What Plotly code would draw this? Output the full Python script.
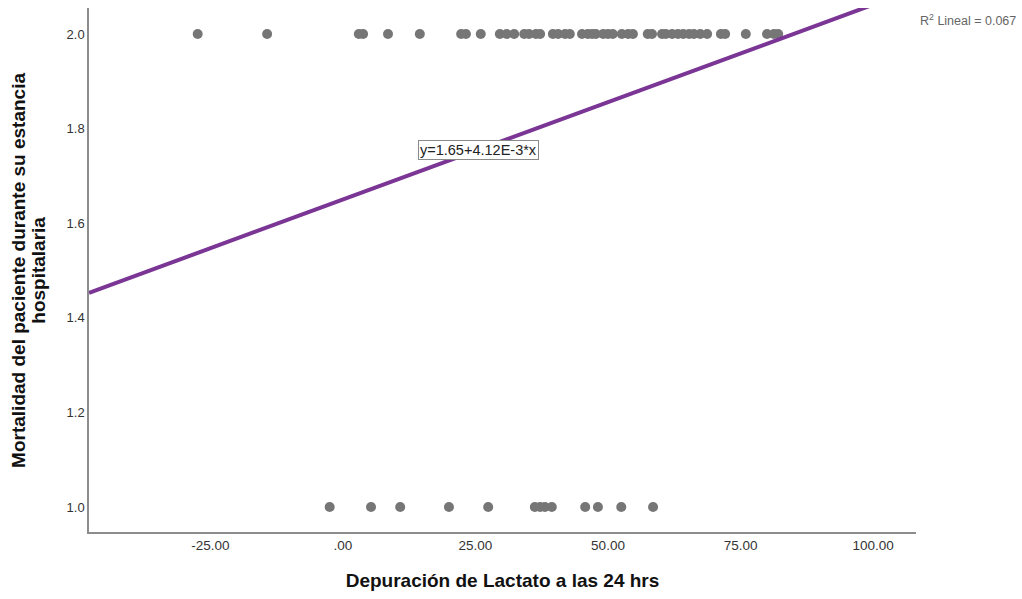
import plotly.graph_objects as go

# Lactate clearance at 24 h (%) for patients who survived (2) and died (1)
depuracion_sobrevivio = [
    -27.4, -14.3, 3.0, 3.8, 8.5, 14.5, 22.3, 23.2, 26.0, 29.6, 30.9, 32.3,
    34.2, 35.1, 36.4, 37.2, 39.6, 40.6, 41.9, 42.8, 45.1, 46.2, 47.0, 47.7,
    49.1, 50.0, 50.9, 52.6, 53.8, 54.7, 57.5, 58.3, 60.2, 60.9, 62.1, 63.2,
    64.2, 65.3, 66.2, 67.4, 68.7, 71.3, 72.1, 76.0, 80.0, 81.3, 82.1,
]
depuracion_fallecio = [
    -2.5, 5.3, 10.8, 20.0, 27.4, 36.2, 37.2, 38.1, 39.4, 45.7, 48.1, 52.5, 58.5,
]
mortalidad_sobrevivio = [2.0] * len(depuracion_sobrevivio)
mortalidad_fallecio = [1.0] * len(depuracion_fallecio)

# Linear fit reported for the model
intercepto = 1.65
pendiente = 4.12e-3
r2 = 0.067

x_rango = [-47.9, 108.1]
y_rango = [0.947, 2.055]
x_ticks = [-25, 0, 25, 50, 75, 100]
x_tick_text = ["-25.00", ".00", "25.00", "50.00", "75.00", "100.00"]
y_ticks = [1.0, 1.2, 1.4, 1.6, 1.8, 2.0]
y_tick_text = ["1.0", "1.2", "1.4", "1.6", "1.8", "2.0"]
titulo_y = ["Mortalidad del paciente durante su estancia", "hospitalaria"]

FONT = "Liberation Sans, Arial, sans-serif"
GRIS_PUNTO = "#767676"
MORADO = "#7A3595"

fig = go.Figure()

fig.add_trace(go.Scatter(
    x=depuracion_sobrevivio + depuracion_fallecio,
    y=mortalidad_sobrevivio + mortalidad_fallecio,
    mode="markers",
    marker=dict(size=10, color=GRIS_PUNTO, line=dict(width=0)),
    showlegend=False,
    hoverinfo="x+y",
))

linea_x = [x_rango[0], x_rango[1]]
linea_y = [intercepto + pendiente * v for v in linea_x]
fig.add_trace(go.Scatter(
    x=linea_x, y=linea_y, mode="lines",
    line=dict(color=MORADO, width=4),
    showlegend=False, hoverinfo="skip",
))

x_etiqueta = 25.5
fig.add_annotation(
    x=x_etiqueta, y=intercepto + pendiente * x_etiqueta,
    xref="x", yref="y",
    text=f"y={intercepto:.2f}+{pendiente * 1000:.2f}E-3*x",
    showarrow=False,
    font=dict(family=FONT, size=14.5, color="#222222"),
    bgcolor="white", bordercolor="#8a8a8a", borderwidth=1, borderpad=1,
)

fig.add_annotation(
    x=1.003, y=0.978, xref="paper", yref="paper",
    xanchor="left", yanchor="middle",
    text=f"R<sup>2</sup> Lineal = {r2:.3f}",
    showarrow=False,
    font=dict(family=FONT, size=12.5, color="#666666"),
)

# Two-line vertical axis title, placed line by line for tight spacing
for linea, x_pos in zip(titulo_y, [-0.086, -0.062]):
    fig.add_annotation(
        x=x_pos, y=0.5, xref="paper", yref="paper",
        xanchor="center", yanchor="middle",
        text=f"<b>{linea}</b>", textangle=-90,
        showarrow=False,
        font=dict(family=FONT, size=19, color="#111111"),
    )

fig.update_layout(
    width=1022, height=599,
    margin=dict(l=89, r=106, t=8, b=67),
    paper_bgcolor="white", plot_bgcolor="white",
    font=dict(family=FONT, color="#333333"),
    xaxis=dict(
        range=x_rango, tickvals=x_ticks, ticktext=x_tick_text,
        showgrid=False, zeroline=False, showline=True,
        linecolor="#8c8c8c", linewidth=1.5, ticks="",
        tickfont=dict(family=FONT, size=13.5, color="#333333"),
        title=dict(text="<b>Depuración de Lactato a las 24 hrs</b>",
                   font=dict(family=FONT, size=19, color="#111111"),
                   standoff=22),
    ),
    yaxis=dict(
        range=y_rango, tickvals=y_ticks, ticktext=y_tick_text,
        showgrid=False, zeroline=False, showline=True,
        linecolor="#8c8c8c", linewidth=1.5, ticks="",
        tickfont=dict(family=FONT, size=13, color="#333333"),
    ),
)

fig.write_html("out.html")
